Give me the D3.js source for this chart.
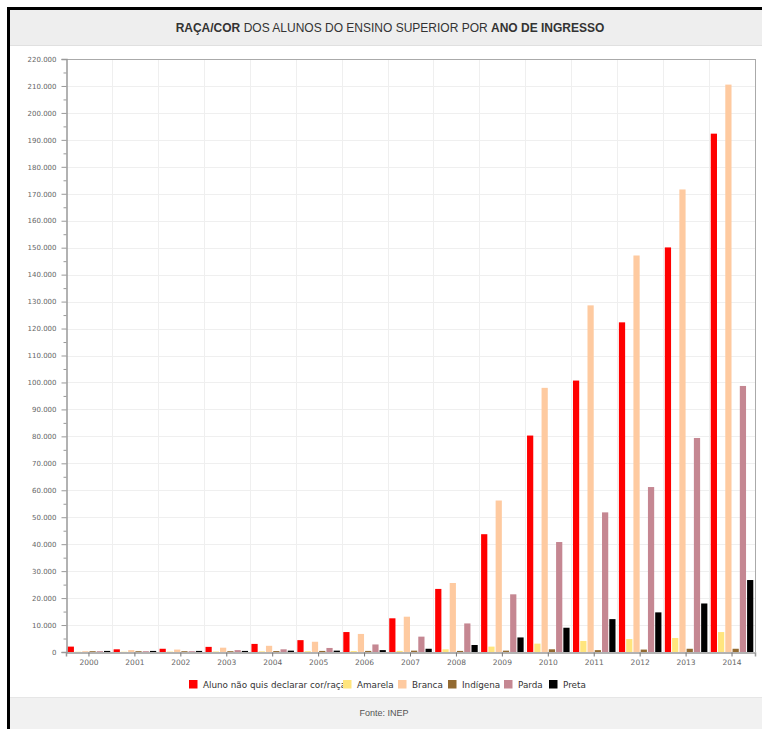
<!DOCTYPE html>
<html>
<head>
<meta charset="utf-8">
<script src="https://cdn.jsdelivr.net/npm/d3@7"></script>
<style>
  html, body { margin: 0; padding: 0; background: #fff; }
  svg { display: block; }
</style>
</head>
<body>
<svg id="chart" width="762" height="729"></svg>
<script>
// Ingressantes no ensino superior por raça/cor, 2000–2014
const years = ["2000","2001","2002","2003","2004","2005","2006","2007","2008","2009","2010","2011","2012","2013","2014"];
const seriesNames = ["Aluno não quis declarar cor/raça", "Amarela", "Branca", "Indígena", "Parda", "Preta"];
const seriesColors = ["#ff0000", "#ffe57d", "#fecaa0", "#926a31", "#c58792", "#000000"];

const naoDeclarado = [2000, 1000, 1200, 1900, 3000, 4400, 7400, 12500, 23400, 43700, 80300, 100700, 122300, 150100, 192300];
const amarela      = [100, 100, 150, 200, 250, 300, 350, 400, 1000, 2000, 3100, 4100, 4800, 5200, 7400];
const branca       = [300, 700, 900, 1600, 2300, 3800, 6700, 13100, 25600, 56200, 98000, 128600, 147100, 171600, 210500];
const indigena     = [300, 300, 300, 300, 350, 400, 400, 500, 400, 500, 1000, 700, 900, 1200, 1200];
const parda        = [300, 300, 300, 700, 1000, 1500, 2800, 5700, 10600, 21400, 40800, 51800, 61200, 79400, 98700];
const preta        = [400, 400, 400, 400, 500, 500, 700, 1200, 2600, 5400, 9000, 12200, 14700, 18000, 26700];

const yTicks = d3.range(0, 220001, 10000);
const yMinorTicks = d3.range(5000, 220000, 10000);

const titleBold1 = "RAÇA/COR";
const titleNormal = " DOS ALUNOS DO ENSINO SUPERIOR POR ";
const titleBold2 = "ANO DE INGRESSO";
const sourceText = "Fonte: INEP";

const seriesValues = [naoDeclarado, amarela, branca, indigena, parda, preta];

const svg = d3.select("#chart");
const W = 762, H = 729;

// frame and header/footer panels
svg.append("rect").attr("x", 0).attr("y", 0).attr("width", W).attr("height", H).attr("fill", "#fff");
svg.append("rect").attr("x", 10).attr("y", 10).attr("width", W - 10).attr("height", 35).attr("fill", "#eeeeee");
svg.append("line").attr("x1", 10).attr("x2", W).attr("y1", 45.5).attr("y2", 45.5).attr("stroke", "#e0e0e0");
svg.append("rect").attr("x", 10).attr("y", 697).attr("width", W - 10).attr("height", H - 697).attr("fill", "#f1f1f1");
svg.append("line").attr("x1", 10).attr("x2", W).attr("y1", 697.5).attr("y2", 697.5).attr("stroke", "#e6e6e6");
svg.append("rect").attr("x", 7).attr("y", 7).attr("width", 3).attr("height", H - 7).attr("fill", "#000");
svg.append("rect").attr("x", 7).attr("y", 7).attr("width", W - 7).attr("height", 3).attr("fill", "#000");

// title
const title = svg.append("text")
  .attr("x", 390).attr("y", 32)
  .attr("text-anchor", "middle")
  .attr("font-family", "'Liberation Sans', Arial, sans-serif")
  .attr("font-size", 12)
  .attr("fill", "#333");
title.append("tspan").attr("font-weight", "bold").text(titleBold1);
title.append("tspan").text(titleNormal);
title.append("tspan").attr("font-weight", "bold").text(titleBold2);

// plot area
const plot = { left: 66, right: 755, top: 59, bottom: 652 };

const x0 = d3.scaleBand().domain(years).range([plot.left, plot.right]).paddingInner(0).paddingOuter(0);
const x1 = d3.scaleBand().domain(seriesNames).range([1.7, x0.bandwidth() - 1.7]).paddingInner(1 / 7).paddingOuter(0);
const y = d3.scaleLinear().domain([0, 220000]).range([plot.bottom, plot.top]);

const locale = d3.formatLocale({ decimal: ",", thousands: ".", grouping: [3], currency: ["R$", ""] });
const fmt = locale.format(",d");

// grid
const grid = svg.append("g");
grid.selectAll("line.h").data(yTicks.slice(1)).join("line")
  .attr("x1", plot.left).attr("x2", plot.right)
  .attr("y1", d => Math.round(y(d)) + 0.5).attr("y2", d => Math.round(y(d)) + 0.5)
  .attr("stroke", "#efefef");
grid.selectAll("line.v").data(years.slice(1)).join("line")
  .attr("x1", d => Math.round(x0(d)) + 0.5).attr("x2", d => Math.round(x0(d)) + 0.5)
  .attr("y1", plot.top).attr("y2", plot.bottom)
  .attr("stroke", "#efefef");

// plot border (top and right)
svg.append("line").attr("x1", plot.left).attr("x2", plot.right + 0.5)
  .attr("y1", plot.top + 0.5).attr("y2", plot.top + 0.5).attr("stroke", "#aaa");
svg.append("line").attr("x1", plot.right + 0.5).attr("x2", plot.right + 0.5)
  .attr("y1", plot.top).attr("y2", plot.bottom).attr("stroke", "#aaa");

// bars
const rows = years.map((yr, i) => ({ year: yr, values: seriesNames.map((s, j) => ({ key: s, value: seriesValues[j][i], color: seriesColors[j] })) }));
const groups = svg.append("g").selectAll("g").data(rows).join("g")
  .attr("transform", d => `translate(${x0(d.year)},0)`);
groups.selectAll("rect").data(d => d.values).join("rect")
  .attr("x", d => x1(d.key))
  .attr("width", x1.bandwidth())
  .attr("y", d => y(d.value))
  .attr("height", d => plot.bottom - y(d.value))
  .attr("fill", d => d.color);

// y axis
const yAxis = d3.axisLeft(y).tickValues(yTicks).tickFormat(fmt).tickSize(5).tickPadding(5);
const gy = svg.append("g").attr("transform", `translate(${plot.left + 0.5},0)`).call(yAxis);
gy.select(".domain").attr("stroke", "#999").attr("stroke-width", 1.5);
gy.selectAll(".tick line").attr("stroke", "#999");
gy.selectAll(".tick text").attr("font-family", "'DejaVu Sans', sans-serif").attr("font-size", 7).attr("fill", "#666");
const yMinor = d3.axisLeft(y).tickValues(yMinorTicks).tickFormat("").tickSize(3);
const gym = svg.append("g").attr("transform", `translate(${plot.left + 0.5},0)`).call(yMinor);
gym.select(".domain").remove();
gym.selectAll(".tick line").attr("stroke", "#999");

// x axis
const xAxis = d3.axisBottom(x0).tickSize(4).tickPadding(3);
const gx = svg.append("g").attr("transform", `translate(0,${plot.bottom + 0.5})`).call(xAxis);
gx.select(".domain").attr("stroke", "#999").attr("stroke-width", 1.5);
gx.selectAll(".tick line").attr("stroke", "#777");
gx.selectAll(".tick text").attr("font-family", "'DejaVu Sans', sans-serif").attr("font-size", 7.5).attr("fill", "#666");

// legend
const legendX = [189, 343, 398, 448, 504, 549];
const legend = svg.append("g").selectAll("g").data(seriesNames).join("g")
  .attr("transform", (d, i) => `translate(${legendX[i]},680)`);
legend.append("rect").attr("width", 8.5).attr("height", 8.5).attr("fill", (d, i) => seriesColors[i]);
legend.append("text").attr("x", 14).attr("y", 7.5)
  .attr("font-family", "'DejaVu Sans', sans-serif").attr("font-size", 8.8).attr("fill", "#333")
  .text(d => d);

// source
svg.append("text").attr("x", 384).attr("y", 716).attr("text-anchor", "middle")
  .attr("font-family", "'Liberation Sans', Arial, sans-serif").attr("font-size", 9).attr("fill", "#555")
  .text(sourceText);
</script>
</body>
</html>
